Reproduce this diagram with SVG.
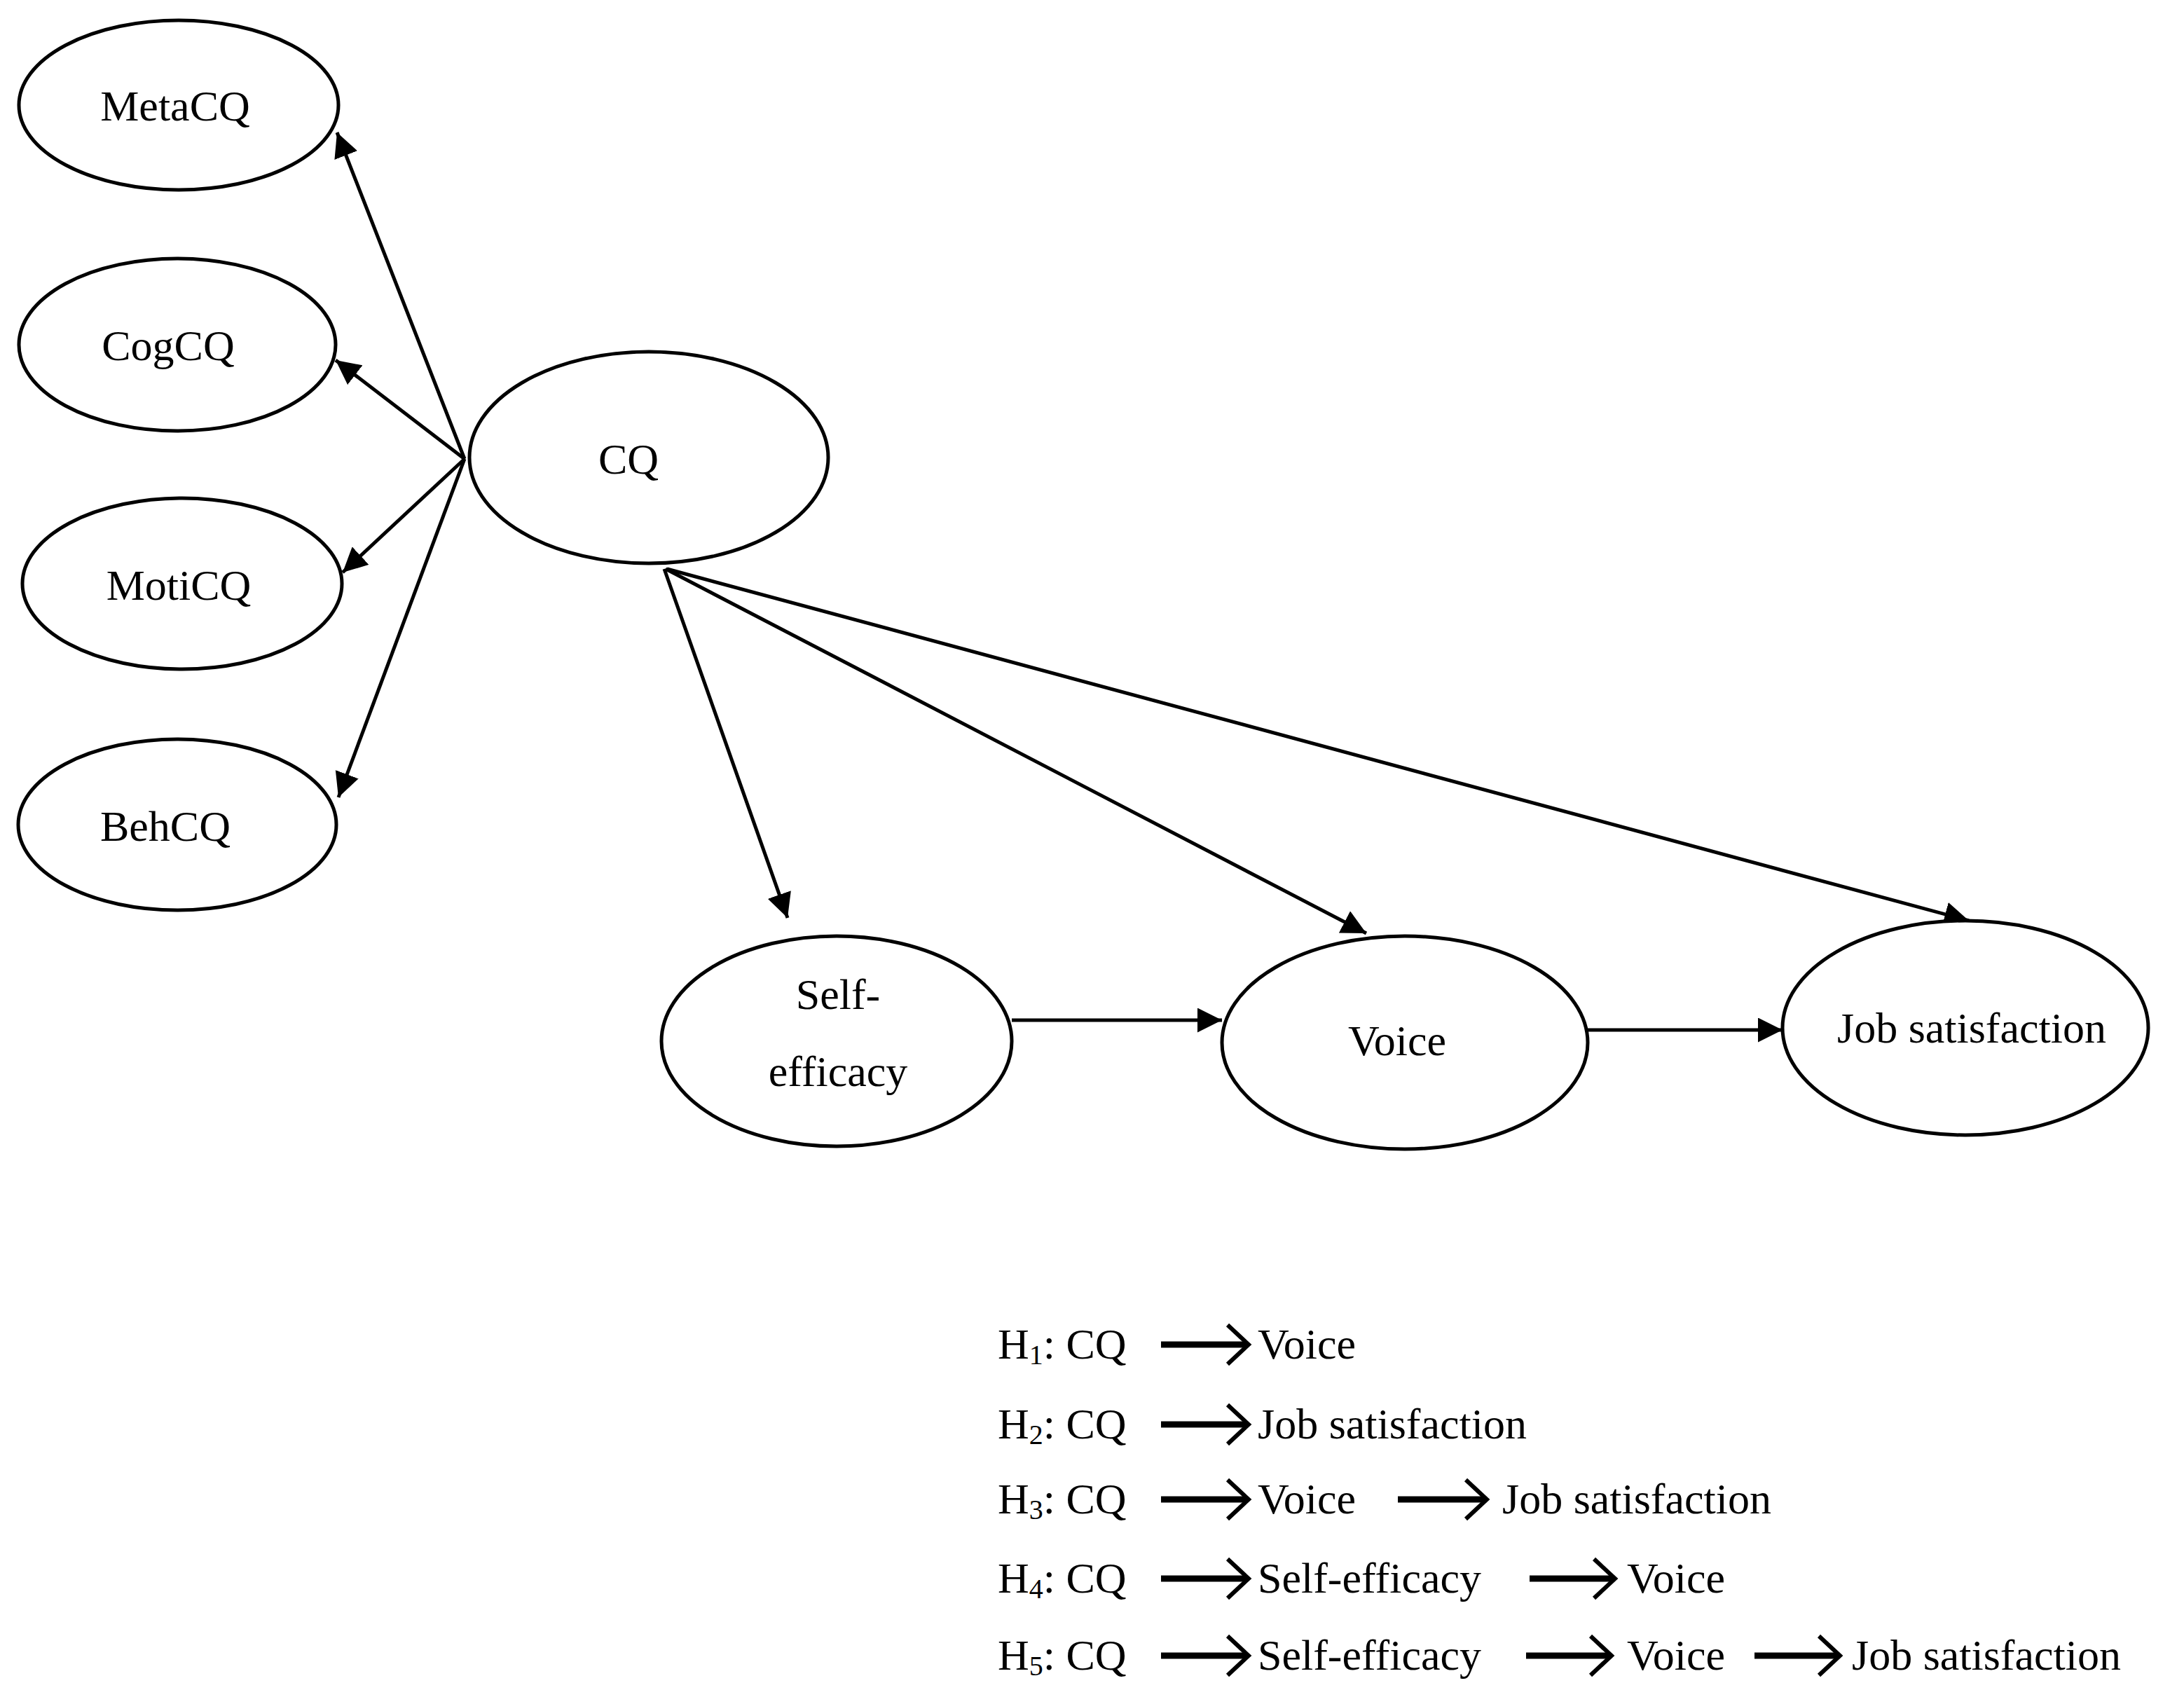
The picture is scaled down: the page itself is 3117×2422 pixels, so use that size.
<svg xmlns="http://www.w3.org/2000/svg" width="3117" height="2422" viewBox="0 0 3117 2422">
<style>
.n{fill:#fff;stroke:#000;stroke-width:5}
.t{font-family:"Liberation Serif",serif;font-size:62px;fill:#000;text-anchor:middle}
.l{font-family:"Liberation Serif",serif;font-size:62px;fill:#000}
.c line{stroke:#000;stroke-width:5}
.la line{stroke:#000;stroke-width:9}
.la path{fill:none;stroke:#000;stroke-width:6}
</style>
<defs>
<marker id="a" viewBox="0 0 10 10" refX="10" refY="5" markerWidth="7" markerHeight="7" markerUnits="strokeWidth" orient="auto"><path d="M0,0 L10,5 L0,10 z" fill="#000"/></marker>
</defs>
<rect width="3117" height="2422" fill="#fff"/>
<g class="c">
<line x1="663" y1="655" x2="481" y2="189" marker-end="url(#a)"/>
<line x1="663" y1="655" x2="479" y2="514" marker-end="url(#a)"/>
<line x1="663" y1="655" x2="489" y2="817" marker-end="url(#a)"/>
<line x1="663" y1="655" x2="483" y2="1138" marker-end="url(#a)"/>
<line x1="948" y1="812" x2="1124" y2="1310" marker-end="url(#a)"/>
<line x1="950" y1="812" x2="1950" y2="1332" marker-end="url(#a)"/>
<line x1="952" y1="812" x2="2810" y2="1314" marker-end="url(#a)"/>
<line x1="1444" y1="1456" x2="1744" y2="1456" marker-end="url(#a)"/>
<line x1="2266" y1="1470" x2="2544" y2="1470" marker-end="url(#a)"/>
</g>
<g id="MetaCQ"><ellipse class="n" cx="255" cy="150" rx="228" ry="121"/><text class="t" x="250" y="172">MetaCQ</text></g>
<g id="CogCQ"><ellipse class="n" cx="253" cy="492" rx="226" ry="123"/><text class="t" x="240" y="514">CogCQ</text></g>
<g id="MotiCQ"><ellipse class="n" cx="260" cy="833" rx="228" ry="122"/><text class="t" x="255" y="856">MotiCQ</text></g>
<g id="BehCQ"><ellipse class="n" cx="253" cy="1177" rx="227" ry="122"/><text class="t" x="236" y="1200">BehCQ</text></g>
<g id="CQ"><ellipse class="n" cx="926" cy="653" rx="256" ry="151"/><text class="t" x="897" y="676">CQ</text></g>
<g id="SelfEfficacy"><ellipse class="n" cx="1194" cy="1486" rx="250" ry="150"/><text class="t" x="1196" y="1440">Self-</text><text class="t" x="1196" y="1550">efficacy</text></g>
<g id="Voice"><ellipse class="n" cx="2005" cy="1488" rx="261" ry="152"/><text class="t" x="1994" y="1506">Voice</text></g>
<g id="JobSatisfaction"><ellipse class="n" cx="2805" cy="1467" rx="261" ry="153"/><text class="t" x="2814" y="1488">Job satisfaction</text></g>
<g id="legend">
<text class="l" x="1424" y="1939">H<tspan font-size="40" dy="8">1</tspan><tspan dy="-8">: CQ</tspan></text>
<text class="l" x="1795" y="1939">Voice</text>
<text class="l" x="1424" y="2053">H<tspan font-size="40" dy="8">2</tspan><tspan dy="-8">: CQ</tspan></text>
<text class="l" x="1795" y="2053">Job satisfaction</text>
<text class="l" x="1424" y="2160">H<tspan font-size="40" dy="8">3</tspan><tspan dy="-8">: CQ</tspan></text>
<text class="l" x="1795" y="2160">Voice</text>
<text class="l" x="2144" y="2160">Job satisfaction</text>
<text class="l" x="1424" y="2273">H<tspan font-size="40" dy="8">4</tspan><tspan dy="-8">: CQ</tspan></text>
<text class="l" x="1795" y="2273">Self-efficacy</text>
<text class="l" x="2322" y="2273">Voice</text>
<text class="l" x="1424" y="2383">H<tspan font-size="40" dy="8">5</tspan><tspan dy="-8">: CQ</tspan></text>
<text class="l" x="1795" y="2383">Self-efficacy</text>
<text class="l" x="2322" y="2383">Voice</text>
<text class="l" x="2643" y="2383">Job satisfaction</text>
<g class="la">
<line x1="1657" y1="1919" x2="1780" y2="1919"/><path d="M1752,1891 L1782,1919 L1752,1947"/>
<line x1="1657" y1="2033" x2="1780" y2="2033"/><path d="M1752,2005 L1782,2033 L1752,2061"/>
<line x1="1657" y1="2140" x2="1780" y2="2140"/><path d="M1752,2112 L1782,2140 L1752,2168"/>
<line x1="1995" y1="2140" x2="2120" y2="2140"/><path d="M2092,2112 L2122,2140 L2092,2168"/>
<line x1="1657" y1="2253" x2="1780" y2="2253"/><path d="M1752,2225 L1782,2253 L1752,2281"/>
<line x1="2183" y1="2253" x2="2303" y2="2253"/><path d="M2275,2225 L2305,2253 L2275,2281"/>
<line x1="1657" y1="2363" x2="1780" y2="2363"/><path d="M1752,2335 L1782,2363 L1752,2391"/>
<line x1="2178" y1="2363" x2="2298" y2="2363"/><path d="M2270,2335 L2300,2363 L2270,2391"/>
<line x1="2504" y1="2363" x2="2624" y2="2363"/><path d="M2596,2335 L2626,2363 L2596,2391"/>
</g>
</g>
</svg>
